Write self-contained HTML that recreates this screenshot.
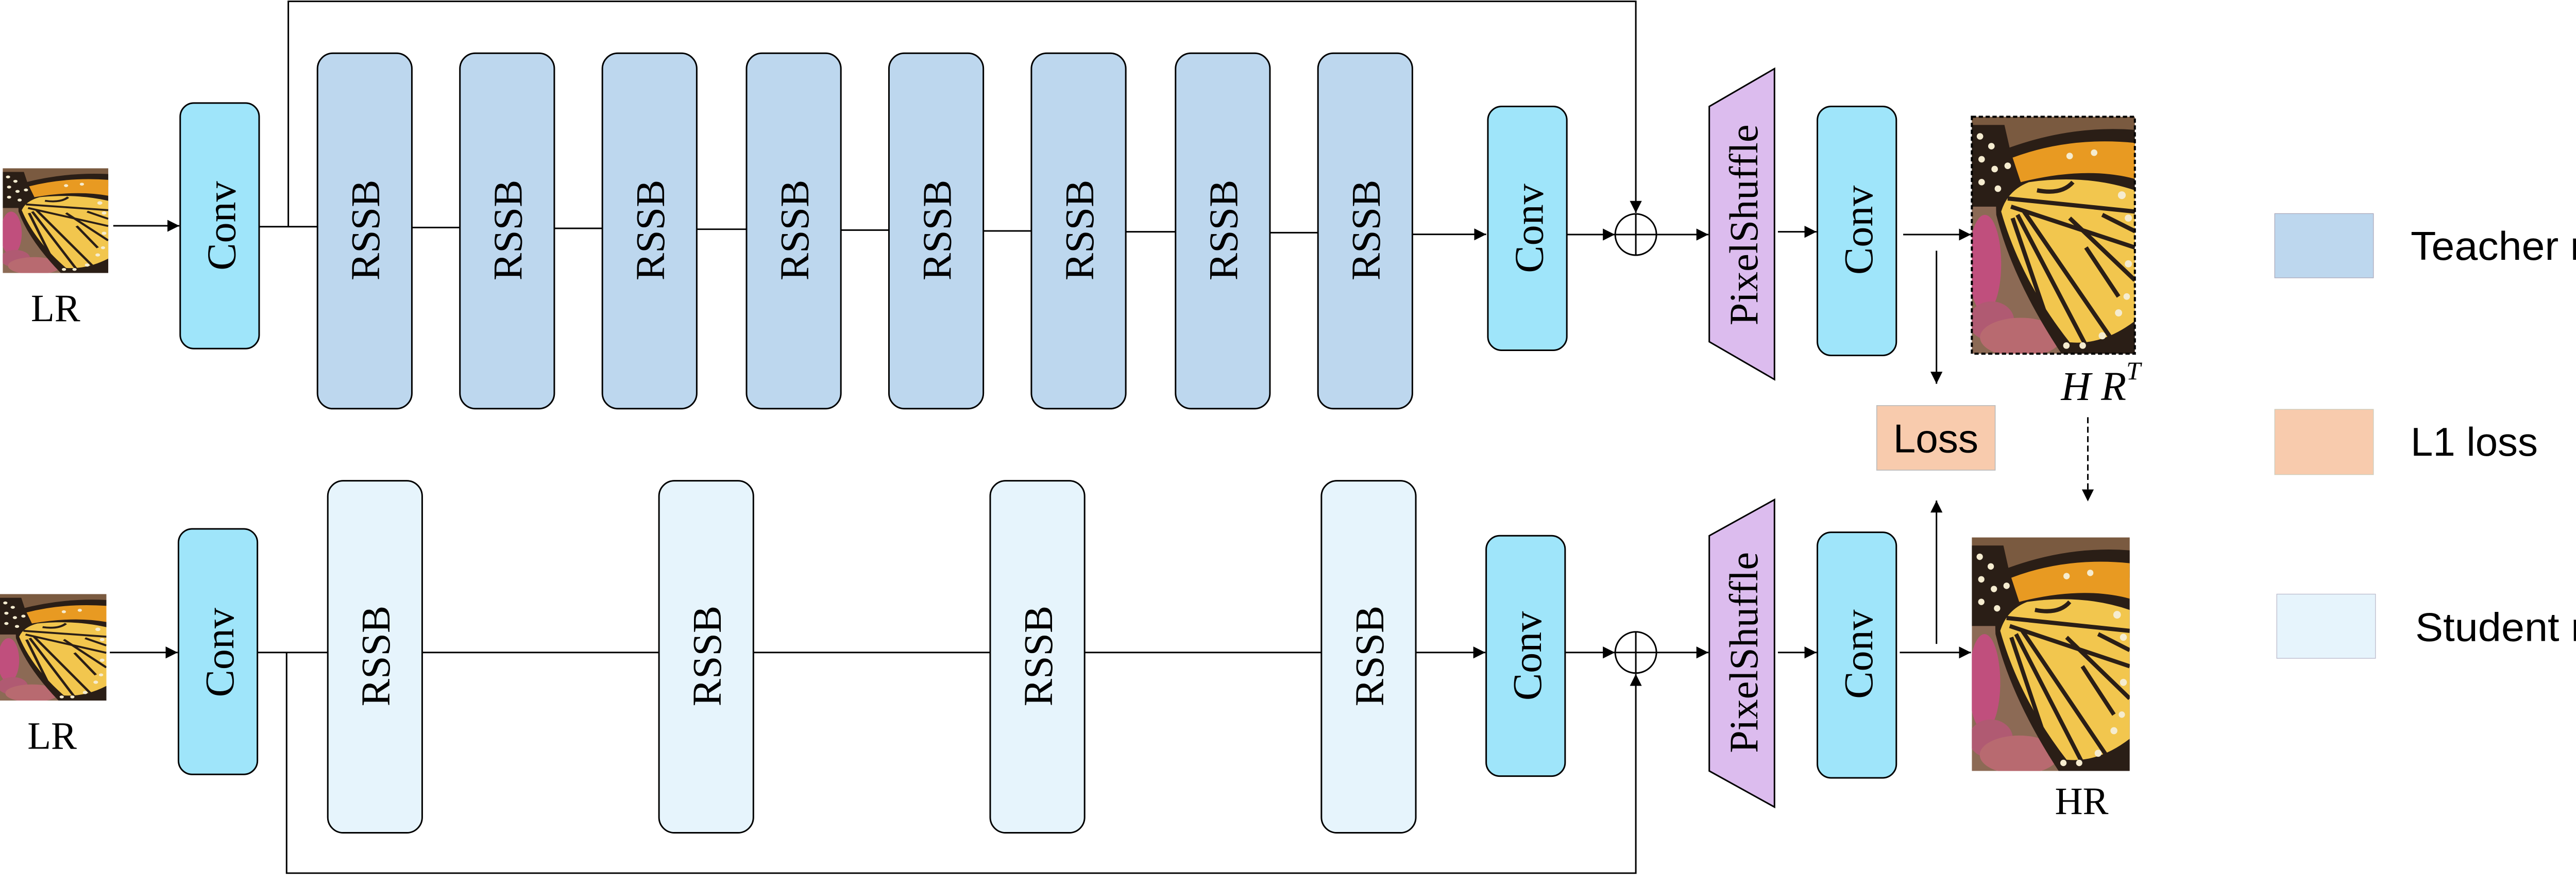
<!DOCTYPE html>
<html><head><meta charset="utf-8"><style>
html,body{margin:0;padding:0;background:#fff;}
svg{display:block;}
.s{font-family:"Liberation Serif",serif;}
.a{font-family:"Liberation Sans",sans-serif;}
</style></head><body>
<svg width="5223" height="1711" viewBox="0 0 1568 513.66" xmlns="http://www.w3.org/2000/svg">
<defs>
<marker id="ar" viewBox="0 0 10 10" refX="10" refY="5" markerWidth="7" markerHeight="7" markerUnits="userSpaceOnUse" orient="auto">
<path d="M0,0 L10,5 L0,10 z" fill="#000"/></marker>
<symbol id="bf" viewBox="0 0 100 145" preserveAspectRatio="none">
<rect x="0" y="0" width="100" height="145" fill="#8c6a55"/>
<rect x="0" y="0" width="100" height="25" fill="#7a5a40"/>
<ellipse cx="8" cy="90" rx="10" ry="30" fill="#c04f7d"/>
<ellipse cx="12" cy="125" rx="14" ry="12" fill="#b05a72"/>
<ellipse cx="30" cy="135" rx="25" ry="12" fill="#b86a70"/>
<path d="M0,5 L20,5 L28,40 L22,55 L0,55 z" fill="#2a1e16"/>
<path d="M20,20 Q60,5 100,8 L100,145 L55,145 Q25,100 15,60 Q14,40 20,20 z" fill="#2a1e16"/>
<path d="M25,25 Q60,12 100,16 L100,38 Q70,30 30,40 z" fill="#e89a22"/>
<path d="M18,58 Q22,45 35,40 Q70,35 100,45 L100,125 Q80,140 60,138 Q30,100 18,58 z" fill="#f2c64e"/>
<g stroke="#2a1e16" stroke-width="2.6" fill="none">
<path d="M22,50 L100,58"/><path d="M24,55 L100,80"/><path d="M28,60 L70,140"/>
<path d="M32,58 L85,135"/><path d="M25,62 L50,135"/><path d="M60,62 L100,100"/>
<path d="M40,45 Q55,48 62,40"/><path d="M70,80 L90,110"/><path d="M80,60 L100,70"/>
</g>
<g fill="#f5ecd0">
<circle cx="5" cy="12" r="2"/><circle cx="12" cy="18" r="2"/><circle cx="6" cy="26" r="2"/><circle cx="14" cy="32" r="2"/>
<circle cx="6" cy="40" r="2"/><circle cx="16" cy="44" r="2"/><circle cx="22" cy="30" r="2"/>
<circle cx="92" cy="48" r="2.4"/><circle cx="96" cy="62" r="2.2"/><circle cx="96" cy="90" r="2.2"/>
<circle cx="90" cy="120" r="2.2"/><circle cx="80" cy="134" r="2.2"/><circle cx="68" cy="140" r="2"/><circle cx="58" cy="140" r="2"/>
<circle cx="95" cy="110" r="2"/><circle cx="60" cy="24" r="2"/><circle cx="75" cy="22" r="2"/>
</g>
</symbol>
</defs>

<!-- TOP ROW -->
<use href="#bf" x="1.6" y="98" width="61.5" height="61"/>
<text class="s" x="18" y="187" font-size="22.5">LR</text>
<line x1="66" y1="131.5" x2="104.5" y2="131.5" stroke="#000" stroke-width="0.9" marker-end="url(#ar)"/>
<rect x="105" y="60" width="46" height="143" rx="8" fill="#9fe5fa" stroke="#000" stroke-width="0.9"/>
<text class="s" font-size="24" transform="translate(137,131.5) rotate(-90)" text-anchor="middle">Conv</text>
<!-- skip -->
<polyline points="151,132 185,132" fill="none" stroke="#000" stroke-width="0.9"/>
<polyline points="168,132 168,0.8 953.2,0.8 953.2,124" fill="none" stroke="#000" stroke-width="0.9" marker-end="url(#ar)"/>
<!-- RSSB teacher -->
<g stroke="#000" stroke-width="0.9" fill="#bdd7ee">
<line x1="240" y1="132.5" x2="268" y2="132.5"/><line x1="323" y1="133" x2="351" y2="133"/>
<line x1="406" y1="133.5" x2="435" y2="133.5"/><line x1="490" y1="134" x2="518" y2="134"/>
<line x1="573" y1="134.5" x2="601" y2="134.5"/><line x1="656" y1="135" x2="685" y2="135"/>
<line x1="740" y1="135.5" x2="768" y2="135.5"/>
<rect x="185" y="31" width="55" height="207" rx="9"/>
<rect x="268" y="31" width="55" height="207" rx="9"/>
<rect x="351" y="31" width="55" height="207" rx="9"/>
<rect x="435" y="31" width="55" height="207" rx="9"/>
<rect x="518" y="31" width="55" height="207" rx="9"/>
<rect x="601" y="31" width="55" height="207" rx="9"/>
<rect x="685" y="31" width="55" height="207" rx="9"/>
<rect x="768" y="31" width="55" height="207" rx="9"/>
</g>
<g class="s" font-size="24" text-anchor="middle">
<text transform="translate(221,134) rotate(-90)">RSSB</text>
<text transform="translate(304,134) rotate(-90)">RSSB</text>
<text transform="translate(387,134) rotate(-90)">RSSB</text>
<text transform="translate(471,134) rotate(-90)">RSSB</text>
<text transform="translate(554,134) rotate(-90)">RSSB</text>
<text transform="translate(637,134) rotate(-90)">RSSB</text>
<text transform="translate(721,134) rotate(-90)">RSSB</text>
<text transform="translate(804,134) rotate(-90)">RSSB</text>
</g>
<line x1="823" y1="136.5" x2="866" y2="136.5" stroke="#000" stroke-width="0.9" marker-end="url(#ar)"/>
<rect x="867" y="62" width="46" height="142" rx="8" fill="#9fe5fa" stroke="#000" stroke-width="0.9"/>
<text class="s" font-size="24" transform="translate(899,133) rotate(-90)" text-anchor="middle">Conv</text>
<line x1="913" y1="136.6" x2="941" y2="136.6" stroke="#000" stroke-width="0.9" marker-end="url(#ar)"/>
<circle cx="953.2" cy="136.6" r="12" fill="none" stroke="#000" stroke-width="0.9"/>
<line x1="941.2" y1="136.6" x2="965.2" y2="136.6" stroke="#000" stroke-width="0.9"/>
<line x1="953.2" y1="124.6" x2="953.2" y2="148.6" stroke="#000" stroke-width="0.9"/>
<line x1="965.2" y1="136.6" x2="995.5" y2="136.6" stroke="#000" stroke-width="0.9" marker-end="url(#ar)"/>
<polygon points="996,62 1034,40 1034,221 996,199" fill="#dcbcee" stroke="#000" stroke-width="0.9"/>
<text class="s" font-size="23.5" transform="translate(1024,131) rotate(-90)" text-anchor="middle">PixelShuffle</text>
<line x1="1036" y1="135" x2="1058.5" y2="135" stroke="#000" stroke-width="0.9" marker-end="url(#ar)"/>
<rect x="1059" y="62" width="46" height="145" rx="8" fill="#9fe5fa" stroke="#000" stroke-width="0.9"/>
<text class="s" font-size="24" transform="translate(1091,134) rotate(-90)" text-anchor="middle">Conv</text>
<line x1="1109" y1="136.6" x2="1148.5" y2="136.6" stroke="#000" stroke-width="0.9" marker-end="url(#ar)"/>
<use href="#bf" x="1149" y="68" width="95" height="138"/>
<rect x="1149" y="68" width="95" height="138" fill="none" stroke="#000" stroke-width="1.2" stroke-dasharray="2.5,1.5"/>
<text class="s" font-style="italic" x="1201" y="233" font-size="24">H R<tspan font-size="15" dy="-12">T</tspan></text>
<line x1="1128.4" y1="146" x2="1128.4" y2="223.5" stroke="#000" stroke-width="0.9" marker-end="url(#ar)"/>
<rect x="1093.6" y="236.2" width="69" height="37.6" fill="#f8cbad" stroke="#bbb" stroke-width="0.5"/>
<text class="a" x="1128" y="263.5" font-size="23.5" text-anchor="middle">Loss</text>
<line x1="1216.6" y1="243" x2="1216.6" y2="292" stroke="#000" stroke-width="0.9" stroke-dasharray="3.5,2" marker-end="url(#ar)"/>
<line x1="1128.4" y1="375" x2="1128.4" y2="291.5" stroke="#000" stroke-width="0.9" marker-end="url(#ar)"/>

<!-- BOTTOM ROW -->
<use href="#bf" x="0" y="346" width="62" height="62"/>
<text class="s" x="16" y="436" font-size="22.5">LR</text>
<line x1="64" y1="380" x2="103.5" y2="380" stroke="#000" stroke-width="0.9" marker-end="url(#ar)"/>
<rect x="104" y="308" width="46" height="143" rx="8" fill="#9fe5fa" stroke="#000" stroke-width="0.9"/>
<text class="s" font-size="24" transform="translate(136,380) rotate(-90)" text-anchor="middle">Conv</text>
<line x1="150" y1="380" x2="825" y2="380" stroke="#000" stroke-width="0.9"/>
<polyline points="167,380 167,508.5 953.2,508.5 953.2,392.5" fill="none" stroke="#000" stroke-width="0.9" marker-end="url(#ar)"/>
<g stroke="#000" stroke-width="0.9" fill="#e6f4fc">
<rect x="191" y="280" width="55" height="205" rx="9"/>
<rect x="384" y="280" width="55" height="205" rx="9"/>
<rect x="577" y="280" width="55" height="205" rx="9"/>
<rect x="770" y="280" width="55" height="205" rx="9"/>
</g>
<g class="s" font-size="24" text-anchor="middle">
<text transform="translate(227,382) rotate(-90)">RSSB</text>
<text transform="translate(420,382) rotate(-90)">RSSB</text>
<text transform="translate(613,382) rotate(-90)">RSSB</text>
<text transform="translate(806,382) rotate(-90)">RSSB</text>
</g>
<line x1="825" y1="380" x2="865.5" y2="380" stroke="#000" stroke-width="0.9" marker-end="url(#ar)"/>
<rect x="866" y="312" width="46" height="140" rx="8" fill="#9fe5fa" stroke="#000" stroke-width="0.9"/>
<text class="s" font-size="24" transform="translate(898,382) rotate(-90)" text-anchor="middle">Conv</text>
<line x1="912" y1="380" x2="941" y2="380" stroke="#000" stroke-width="0.9" marker-end="url(#ar)"/>
<circle cx="953.2" cy="380" r="12" fill="none" stroke="#000" stroke-width="0.9"/>
<line x1="941.2" y1="380" x2="965.2" y2="380" stroke="#000" stroke-width="0.9"/>
<line x1="953.2" y1="368" x2="953.2" y2="392" stroke="#000" stroke-width="0.9"/>
<line x1="965.2" y1="380" x2="995.5" y2="380" stroke="#000" stroke-width="0.9" marker-end="url(#ar)"/>
<polygon points="996,312 1034,291 1034,470 996,449" fill="#dcbcee" stroke="#000" stroke-width="0.9"/>
<text class="s" font-size="23.5" transform="translate(1024,380) rotate(-90)" text-anchor="middle">PixelShuffle</text>
<line x1="1036" y1="380" x2="1058.5" y2="380" stroke="#000" stroke-width="0.9" marker-end="url(#ar)"/>
<rect x="1059" y="310" width="46" height="143" rx="8" fill="#9fe5fa" stroke="#000" stroke-width="0.9"/>
<text class="s" font-size="24" transform="translate(1091,381) rotate(-90)" text-anchor="middle">Conv</text>
<line x1="1107" y1="380" x2="1148.5" y2="380" stroke="#000" stroke-width="0.9" marker-end="url(#ar)"/>
<use href="#bf" x="1149" y="313" width="92" height="136"/>
<text class="s" x="1213" y="474" font-size="22.5" text-anchor="middle">HR</text>

<!-- LEGEND -->
<rect x="1325.5" y="124.4" width="57.5" height="37.4" fill="#bdd7ee" stroke="#aab" stroke-width="0.4"/>
<text class="a" x="1404.7" y="151.3" font-size="23.4" textLength="159" lengthAdjust="spacingAndGlyphs">Teacher model</text>
<rect x="1325.5" y="238.4" width="57.5" height="38" fill="#f8cbad" stroke="#ccb" stroke-width="0.4"/>
<text class="a" x="1404.7" y="265.4" font-size="23.4">L1 loss</text>
<rect x="1326.7" y="346" width="57.5" height="37.4" fill="#e6f4fc" stroke="#bbc" stroke-width="0.4"/>
<text class="a" x="1407.4" y="373.3" font-size="23.4" textLength="157" lengthAdjust="spacingAndGlyphs">Student model</text>
</svg>
</body></html>
